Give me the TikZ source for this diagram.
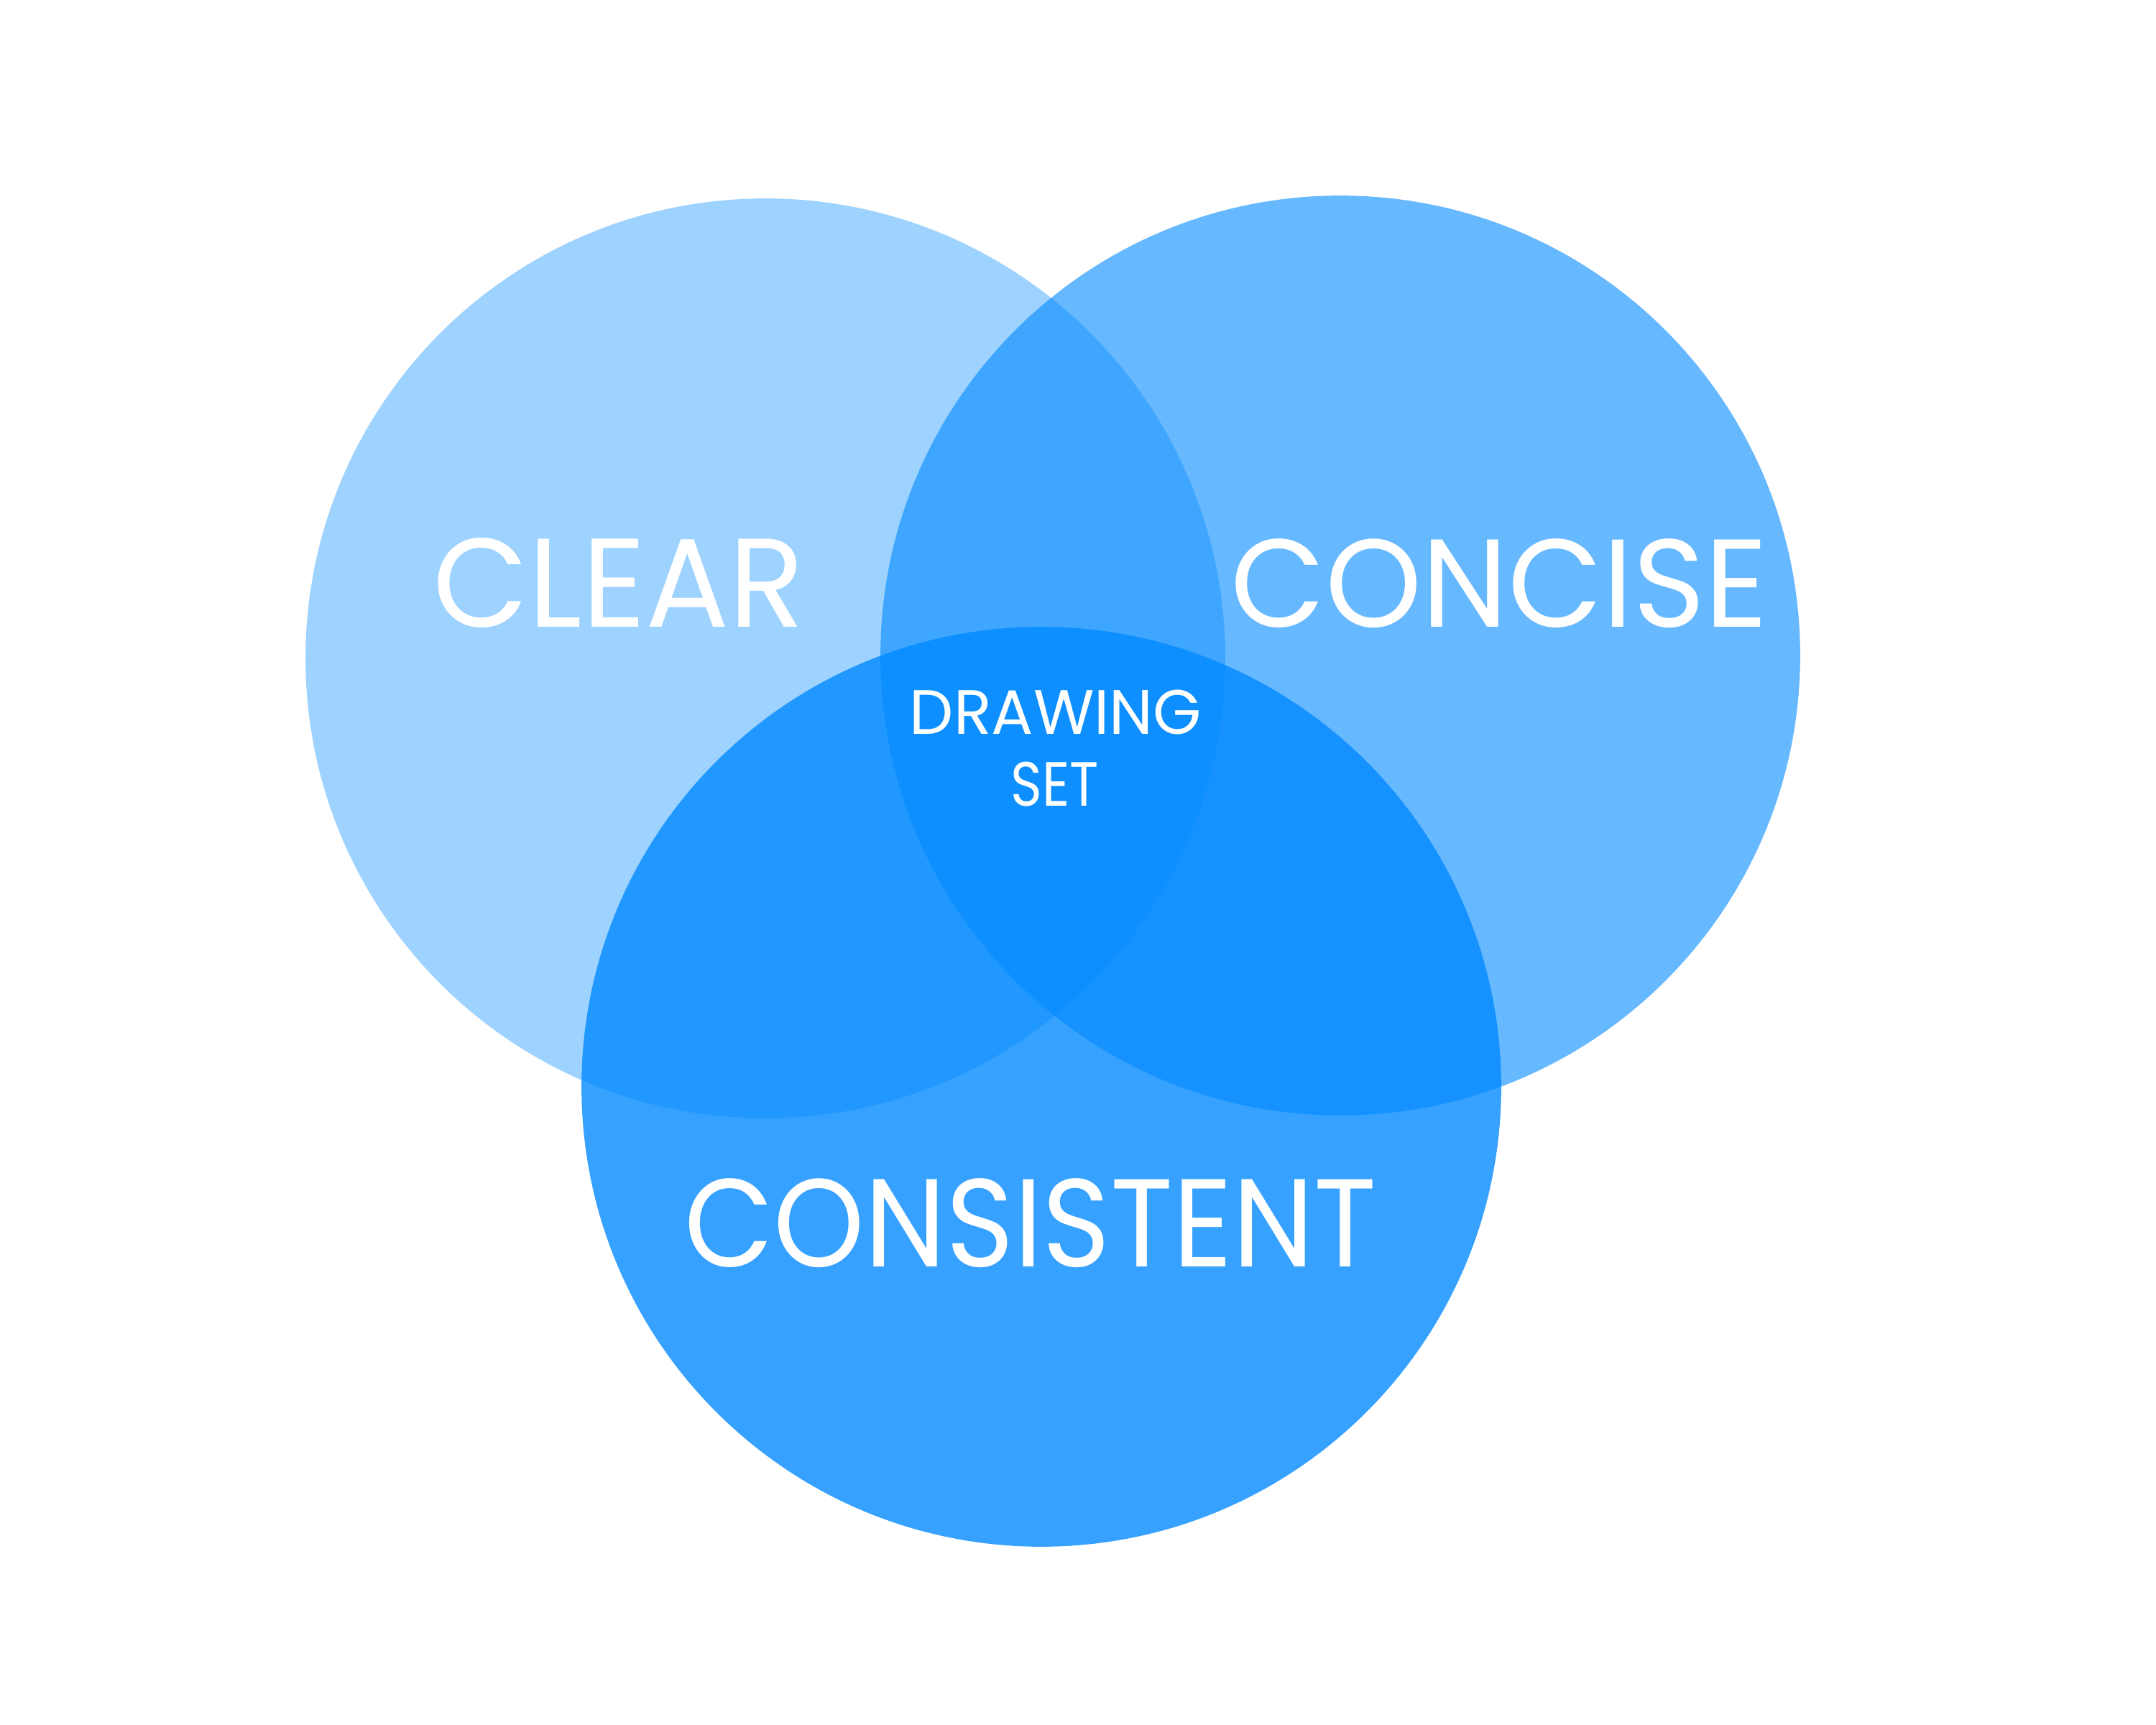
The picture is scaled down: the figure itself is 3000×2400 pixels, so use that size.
\documentclass[tikz,border=0pt]{standalone}
\usepackage{fontspec}
\setmainfont{Poppins}
\usepackage{graphicx}
\definecolor{venn}{RGB}{0,137,255}
\tikzset{
  vcircle/.style={circle, minimum size=12.79cm, inner sep=0pt, fill=venn},
  vlabel/.style={text=white, inner sep=0pt, anchor=center}
}
\newcommand{\fitto}[3]{\resizebox*{#1}{#2}{#3}}
\begin{document}
\begin{tikzpicture}[x=0.01cm, y=-0.01cm]
\useasboundingbox[fill=white] (0,0) rectangle (3000,2400);
\node[vcircle, fill opacity=0.38] (clear) at (1065,916) {};
\node[vcircle, fill opacity=0.60] (concise) at (1865,912) {};
\node[vcircle, fill opacity=0.79] (consistent) at (1449,1512) {};
\node[vlabel] (tclear) at (861,811) {\fitto{5.17cm}{1.25cm}{CLEAR}};
\node[vlabel] (tconcise) at (2086,812) {\fitto{7.47cm}{1.24cm}{CONCISE}};
\node[vlabel] (tconsistent) at (1434,1702) {\fitto{9.62cm}{1.24cm}{CONSISTENT}};
\node[vlabel] (tdrawing) at (1469,991) {\fitto{4.06cm}{0.62cm}{DRAWING}};
\node[vlabel] (tset) at (1468,1091) {\fitto{1.22cm}{0.62cm}{SET}};
\end{tikzpicture}
\end{document}
